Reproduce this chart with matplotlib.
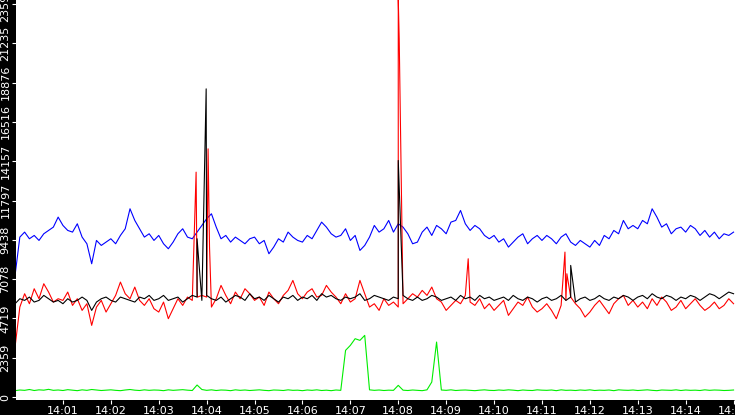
import numpy as np
import matplotlib
matplotlib.use("Agg")
import matplotlib.pyplot as plt

times = np.round(np.arange(0, 15.01, 0.1), 2)
blue = [7300, 9600, 9900, 9500, 9700, 9400, 9800, 10000, 10200, 10800,
        10300, 10000, 9900, 10400, 9600, 9200, 8000, 9400, 9100, 9300,
        9500, 9200, 9700, 10100, 11300, 10600, 10100, 9600, 9800, 9400,
        9700, 9200, 8900, 9300, 9800, 10100, 9600, 9500, 9900, 10300,
        10700, 11000, 10200, 9500, 9700, 9300, 9600, 9400, 9200, 9500,
        9600, 9200, 9400, 8600, 9000, 9500, 9300, 9900, 9600, 9400,
        9300, 9700, 9500, 10000, 10500, 10200, 9800, 9600, 9700, 10100,
        9400, 9700, 8800, 9100, 9600, 10300, 9900, 10100, 10600, 9900,
        10400, 10200, 9800, 9200, 9300, 9900, 10200, 9700, 10300, 10100,
        9800, 10500, 10600, 11200, 10400, 10000, 10300, 10100, 9700, 9500,
        9700, 9300, 9500, 9000, 9300, 9600, 9800, 9200, 9500, 9700,
        9400, 9700, 9500, 9200, 9600, 9800, 9300, 9100, 9400, 9200,
        9000, 9400, 9100, 9700, 9500, 10000, 9800, 10600, 10100, 10300,
        10100, 10600, 10400, 11300, 10800, 10200, 10400, 9800, 10100, 10200,
        9900, 10300, 10100, 9700, 10000, 9600, 9900, 9500, 9800, 9700,
        9900]
red = [3000, 5400, 6200, 5600, 6500, 5900, 6800, 6300, 5700, 5900,
       5800, 6300, 5500, 5900, 5200, 5600, 4300, 5400, 5800, 5100,
       5600, 6100, 6900, 6200, 5900, 6600, 5800, 5500, 5900, 5300,
       5100, 5700, 4700, 5300, 5900, 5500, 6000, 5800, 6400, 6100,
       6000, 5400, 5900, 6700, 6100, 5600, 6300, 5900, 6500, 6200,
       5800, 6000, 5500, 6300, 5900, 5600, 6100, 6400, 7000, 6200,
       5900, 6300, 6500, 6000, 6100, 6700, 6300, 6000, 5600, 6200,
       5700, 5900, 7000, 6200, 5400, 5600, 5200, 5900, 5500, 5700,
       5400, 5600, 5900, 6200, 6000, 6400, 6100, 6600, 5900, 5700,
       5200, 5500, 5800, 5600, 6100, 5700, 5500, 5900, 5300, 5600,
       5200, 5500, 5800, 4900, 5300, 5700, 5500, 6000, 5400, 5100,
       5300, 5600, 5200, 4700, 5500, 5800, 6000, 5600, 5300, 4800,
       5100, 5500, 5800, 5400, 5000, 5600, 5900, 6100, 5500, 5800,
       5400, 5700, 5300, 5900, 5500, 6000, 5700, 5200, 5400, 5800,
       5300, 5600, 5900, 5500, 5200, 5400, 5700, 5300, 5500, 5900,
       5600]
black = [5600, 5900, 5800, 6000, 5700, 5800, 6100, 5900, 5700, 5800,
         5600, 5900, 5700, 5800, 6000, 5800, 5200, 5700, 5900, 6000,
         5800, 5700, 6000, 5900, 5800, 5700, 6000, 5900, 6100, 5800,
         5900, 6100, 5800, 5900, 6000, 5700, 5900, 6100, 6000, 5800,
         6100, 5900, 5800, 6000, 5700, 5900, 6100, 6000, 5800, 6200,
         5900, 6000, 5800, 6100, 5900, 5700, 6000, 5900, 6100, 5800,
         6000, 5900, 6100, 5800, 6200, 6000, 6100, 5900, 5800, 6000,
         5900, 6000, 6200, 5800, 5900, 6100, 6000, 5900, 5800, 6000,
         5900, 6100, 5900, 5800, 6000, 5800, 5900, 6100, 6000, 5800,
         5900, 6000, 5800, 6100, 5900, 6000, 5800, 6100, 5900, 6000,
         5800, 5900, 6000, 5800, 6100, 5900, 5800, 6000, 5900, 5700,
         5900, 6000, 5800, 5900, 6100, 5800, 6000, 5700, 5900, 6000,
         5800, 5900, 6100, 5900, 5800, 6000, 5900, 6100, 6000, 5800,
         6000, 6100, 5900, 6200, 6000, 5900, 6100, 6000, 5800, 6000,
         5900, 6100, 6000, 5800, 6000, 6200, 6100, 5900, 6100, 6300,
         6200]
green = [380, 420, 400, 450, 390, 430, 410, 460, 400, 420,
         390, 440, 410, 380, 430, 400, 450, 420, 390, 410,
         430, 400, 380, 420, 450, 410, 390, 430, 400, 420,
         410, 380, 430, 400, 420, 440, 410, 390, 720, 450,
         400, 430, 390, 420, 410, 380, 430, 400, 420, 390,
         410, 430, 400, 380, 420, 410, 390, 430, 400, 410,
         380, 420, 400, 430, 390, 410, 380, 420, 400, 2800,
         3100, 3500, 3400, 3700, 430, 400, 420, 390, 410, 400,
         700, 410, 390, 420, 400, 380, 430, 900, 3300, 420,
         400, 430, 390, 410, 420, 400, 380, 410, 430, 400,
         390, 420, 400, 430, 410, 380, 420, 400, 390, 430,
         410, 400, 420, 380, 430, 400, 410, 390, 420, 400,
         430, 390, 410, 400, 420, 380, 430, 410, 400, 420,
         390, 410, 430, 400, 380, 420, 410, 400, 430, 390,
         420, 400, 410, 390, 430, 400, 420, 410, 390, 400,
         420]

red_spike_t = [3.78, 3.81, 4.03, 4.06, 8.0, 8.02, 9.46, 11.48, 11.52]
red_spike_v = [13500, 6000, 14900, 9000, 23900, 21500, 8300, 8700, 7400]
black_spike_t = [3.8, 3.99, 8.0, 11.6]
black_spike_v = [9500, 18500, 14200, 7900]

y_ticks = [0, 2359, 4719, 7078, 9438, 11797, 14157, 16516, 18876, 21235, 23595]
x_ticks = list(range(1, 16))
x_labels = ["14:%02d" % m for m in x_ticks]


def merged(t, v, st, sv):
    tt = np.concatenate([t, st])
    vv = np.concatenate([np.asarray(v, float), sv])
    o = np.argsort(tt, kind="stable")
    return tt[o], vv[o]


fig = plt.figure(figsize=(7.35, 4.15), dpi=100, facecolor="black")
ax = fig.add_axes([16 / 735, 15 / 415, 719 / 735, 400 / 415])
ax.set_facecolor("white")
lw = 0.8
ax.plot(times, blue, color="#0000ff", lw=lw)
t, v = merged(times, red, red_spike_t, red_spike_v)
ax.plot(t, v, color="#ff0000", lw=lw)
t, v = merged(times, black, black_spike_t, black_spike_v)
ax.plot(t, v, color="black", lw=lw)
ax.plot(times, green, color="#00ee00", lw=lw)

ax.set_xlim(0.02, 15.03)
ax.set_ylim(-180, 23835)
ax.set_yticks(y_ticks)
ax.set_yticklabels([str(y) for y in y_ticks], rotation=90, va="center")
ax.set_xticks(x_ticks)
ax.set_xticklabels(x_labels)
ax.tick_params(colors="white", labelsize=8, length=3, pad=1)
for s in ax.spines.values():
    s.set_visible(False)
fig.savefig("out.png", dpi=100, facecolor="black")
